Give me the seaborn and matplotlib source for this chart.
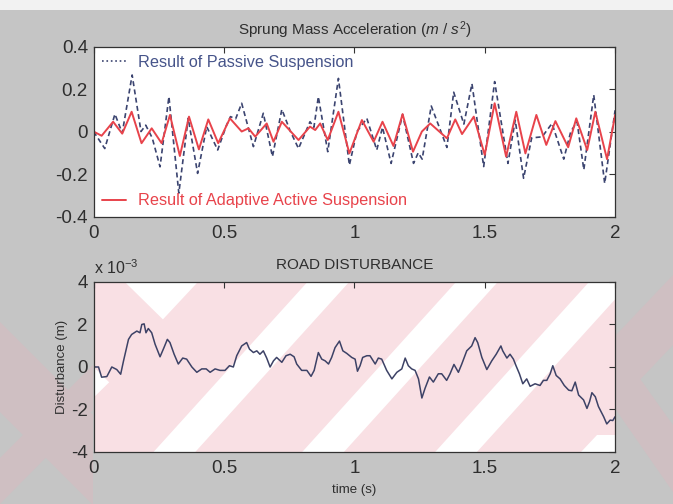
import matplotlib
matplotlib.use("Agg")
import matplotlib.pyplot as plt
import seaborn as sns
from matplotlib.lines import Line2D
from matplotlib.patches import Polygon, Rectangle

# ---------------- data ----------------
t_passive = [0.0, 0.043, 0.082, 0.11, 0.148, 0.182, 0.2, 0.225, 0.255, 0.289, 0.327,
             0.363, 0.399, 0.434, 0.476, 0.51, 0.525, 0.545, 0.568, 0.613, 0.651,
             0.686, 0.722, 0.755, 0.786, 0.83, 0.845, 0.862, 0.898, 0.939, 0.981,
             1.01, 1.048, 1.086, 1.108, 1.141, 1.185, 1.227, 1.245, 1.26, 1.295,
             1.355, 1.381, 1.42, 1.451, 1.496, 1.538, 1.589, 1.617, 1.649, 1.68,
             1.72, 1.758, 1.803, 1.83, 1.854, 1.88, 1.918, 1.96, 2.0]
acc_passive = [0.0, -0.08, 0.082, -0.007, 0.266, 0.0, 0.03, -0.03, -0.166, 0.164, -0.29,
               0.062, -0.197, 0.023, -0.087, 0.03, 0.07, 0.06, 0.133, -0.071, 0.086,
               -0.118, 0.104, 0.0, -0.08, 0.046, 0.02, 0.164, -0.095, 0.25, -0.158,
               0.0, 0.062, -0.087, 0.02, -0.15, 0.08, -0.15, -0.1, -0.13, 0.12,
               -0.075, 0.185, 0.035, 0.225, -0.165, 0.235, -0.15, 0.054, -0.22, -0.03,
               -0.025, 0.038, -0.13, 0.0, 0.046, -0.18, 0.172, -0.244, 0.1]

t_active = [0.0, 0.031, 0.075, 0.11, 0.146, 0.184, 0.223, 0.261, 0.293, 0.331, 0.366,
            0.404, 0.44, 0.478, 0.523, 0.568, 0.594, 0.62, 0.664, 0.69, 0.722, 0.786,
            0.83, 0.85, 0.869, 0.898, 0.939, 0.981, 1.029, 1.074, 1.108, 1.15, 1.185,
            1.225, 1.259, 1.291, 1.355, 1.387, 1.413, 1.458, 1.5, 1.538, 1.582, 1.621,
            1.656, 1.698, 1.736, 1.771, 1.82, 1.851, 1.893, 1.924, 1.969, 2.0]
acc_active = [0.0, -0.02, 0.046, -0.01, 0.093, -0.055, 0.015, -0.055, 0.078, -0.115, 0.07,
              -0.084, 0.057, -0.055, 0.062, 0.0, 0.015, -0.024, 0.038, -0.048, 0.046, -0.04,
              0.023, 0.007, 0.038, -0.04, 0.093, -0.103, 0.054, -0.048, 0.046, -0.068, 0.082,
              -0.095, 0.0, 0.038, -0.032, 0.057, -0.012, 0.07, -0.11, 0.133, -0.118, 0.093,
              -0.103, 0.078, -0.063, 0.049, -0.074, 0.062, -0.087, 0.093, -0.13, 0.078]

# road disturbance, in units of 1e-3 m
t_road = [0.0, 0.006, 0.019, 0.031, 0.051, 0.070, 0.089, 0.104, 0.115, 0.134, 0.146,
          0.166, 0.178, 0.185, 0.194, 0.201, 0.210, 0.223, 0.236, 0.255, 0.270, 0.283,
          0.293, 0.309, 0.325, 0.342, 0.357, 0.377, 0.396, 0.415, 0.432, 0.447, 0.466,
          0.485, 0.504, 0.521, 0.536, 0.549, 0.568, 0.587, 0.598, 0.613, 0.626, 0.638,
          0.651, 0.664, 0.677, 0.690, 0.702, 0.722, 0.738, 0.754, 0.769, 0.779, 0.798,
          0.818, 0.834, 0.846, 0.862, 0.875, 0.888, 0.901, 0.913, 0.926, 0.943, 0.956,
          0.971, 0.990, 1.003, 1.012, 1.022, 1.032, 1.048, 1.060, 1.080, 1.092, 1.105,
          1.124, 1.144, 1.163, 1.182, 1.195, 1.207, 1.220, 1.233, 1.246, 1.259, 1.271,
          1.288, 1.303, 1.322, 1.335, 1.354, 1.367, 1.382, 1.399, 1.412, 1.431, 1.450,
          1.463, 1.473, 1.489, 1.508, 1.527, 1.544, 1.562, 1.569, 1.585, 1.597, 1.610,
          1.620, 1.633, 1.646, 1.661, 1.674, 1.693, 1.712, 1.725, 1.738, 1.751, 1.761,
          1.774, 1.789, 1.805, 1.822, 1.834, 1.847, 1.860, 1.879, 1.892, 1.902, 1.911,
          1.924, 1.936, 1.956, 1.968, 1.981, 1.991, 2.0]
road_e3 = [0.05, 0.0, 0.0, -0.48, -0.45, 0.0, -0.12, -0.34, 0.29, 1.3, 1.53,
           1.69, 1.61, 2.0, 2.03, 1.61, 1.81, 1.61, 1.07, 0.48, 0.91, 1.3,
           1.15, 0.6, 0.14, 0.42, 0.37, 0.0, -0.25, -0.09, -0.09, -0.25, -0.09,
           -0.16, -0.16, 0.06, 0.0, 0.53, 0.99, 1.15, 0.84, 0.68, 0.76, 0.6,
           0.76, 0.42, 0.0, 0.29, 0.45, 0.22, 0.53, 0.6, 0.48, 0.14, -0.16,
           -0.16, -0.44, -0.16, 0.68, 0.37, 0.29, 0.14, 0.45, 0.91, 1.22, 0.76,
           0.64, 0.45, 0.37, -0.2, 0.06, 0.45, 0.53, 0.53, 0.14, 0.42, 0.37,
           -0.16, -0.56, -0.25, -0.09, 0.42, 0.06, -0.09, -0.16, -0.56, -1.46, -1.01,
           -0.47, -0.71, -0.32, -0.32, -0.63, -0.32, 0.12, -0.25, 0.14, 0.76, 0.99,
           1.38, 1.15, 0.45, -0.12, 0.29, 0.6, 0.99, 0.76, 0.42, 0.6, 0.37,
           0.06, -0.32, -0.79, -0.56, -0.91, -0.79, -0.87, -0.63, -0.63, -0.32, 0.06,
           -0.40, -0.56, -0.87, -1.09, -1.12, -0.71, -1.32, -1.55, -1.95, -1.63, -1.21,
           -1.40, -1.86, -2.34, -2.68, -2.50, -2.52, -2.34]

x_ticks = [0, 0.5, 1, 1.5, 2]
x_tick_labels = ["0", "0.5", "1", "1.5", "2"]
acc_ticks = [-0.4, -0.2, 0, 0.2, 0.4]
acc_tick_labels = ["-0.4", "-0.2", "0", "0.2", "0.4"]
road_ticks = [-4, -2, 0, 2, 4]
road_tick_labels = ["-4", "-2", "0", "2", "4"]

label_passive = "Result of Passive Suspension"
label_active = "Result of Adaptive Active Suspension"
title_top = r"Sprung Mass Acceleration ($m$ / $s^2$)"
title_bottom = "ROAD DISTURBANCE"

# ---------------- style ----------------
sns.set_theme(style="white")
plt.rcParams["font.family"] = ["Liberation Sans", "DejaVu Sans"]
plt.rcParams["axes.unicode_minus"] = False
plt.rcParams["mathtext.fontset"] = "custom"
plt.rcParams["mathtext.rm"] = "Liberation Sans"
plt.rcParams["mathtext.it"] = "Liberation Sans:italic"

GRAY_BG = "#c5c5c5"
BAND = "#cfbfc2"
TXT = "#2e2e2e"
C_PASSIVE = "#3b4470"
C_PASSIVE_TXT = "#46548a"
C_ACTIVE = "#e8434b"
C_ROAD = "#3d4266"
W, H = 673.0, 504.0

fig = plt.figure(figsize=(6.73, 5.04), dpi=100, facecolor=GRAY_BG)
fig.patches.append(Rectangle((0, 1 - 10 / H), 1, 10 / H, transform=fig.transFigure,
                             facecolor="#f2f2f2", edgecolor="none", zorder=-10))

# faint watermark bands in the grey margins (pixel coords -> figure fraction)
margin_bands = [
    [(0, 322), (0, 412), (93, 505), (93, 415)],
    [(0, 458), (93, 365), (93, 410), (0, 504)],
    [(673, 275), (673, 345), (616, 405), (616, 335)],
    [(616, 345), (616, 410), (673, 492), (673, 425)],
]
for pts in margin_bands:
    fig.patches.append(Polygon([(x / W, 1 - y / H) for x, y in pts], closed=True,
                               transform=fig.transFigure, facecolor=BAND,
                               edgecolor="none", zorder=-9))

ax1 = fig.add_axes([0.139, 0.5704, 0.775, 0.3373])
ax2 = fig.add_axes([0.139, 0.1032, 0.775, 0.3373])

# ---------- top panel ----------
ax1.set_facecolor("white")
sns.lineplot(x=t_passive, y=acc_passive, ax=ax1, color=C_PASSIVE, lw=1.2,
             linestyle=(0, (3, 2)), estimator=None, sort=False)
sns.lineplot(x=t_active, y=acc_active, ax=ax1, color=C_ACTIVE, lw=1.4,
             estimator=None, sort=False, solid_joinstyle="round")
ax1.set_xlim(0, 2)
ax1.set_ylim(-0.4, 0.4)
ax1.set_xticks(x_ticks, x_tick_labels)
ax1.set_yticks(acc_ticks, acc_tick_labels)
ax1.set_title(title_top, fontsize=11, color=TXT, pad=8)

h_p = Line2D([], [], color=C_PASSIVE, lw=1.2, linestyle=":")
h_a = Line2D([], [], color=C_ACTIVE, lw=1.4)
leg1 = ax1.legend([h_p], [label_passive], loc="upper left", frameon=False,
                  fontsize=11.7, handlelength=1.5, handletextpad=0.75,
                  borderaxespad=0.1, labelcolor=[C_PASSIVE_TXT])
ax1.add_artist(leg1)
ax1.legend([h_a], [label_active], loc="lower left", frameon=False,
           fontsize=11.7, handlelength=1.5, handletextpad=0.75,
           borderaxespad=0.1, labelcolor=[C_ACTIVE])

# ---------- bottom panel ----------
ax2.set_facecolor("#f9e0e4")
stripes = [
    [(0.115, 0.0), (0.195, 0.0), (0.49, 1.0), (0.41, 1.0)],
    [(0.40, 0.0), (0.48, 0.0), (0.775, 1.0), (0.695, 1.0)],
    [(0.655, 0.0), (0.735, 0.0), (1.03, 1.0), (0.95, 1.0)],
    [(0.06, 1.0), (0.20, 1.0), (0.133, 0.78)],
    [(0.0, 0.32), (0.0, 0.50), (0.03, 0.41)],
    [(0.935, 0.0), (1.0, 0.0), (1.0, 0.10), (0.965, 0.10)],
]
for pts in stripes:
    ax2.add_patch(Polygon(pts, closed=True, transform=ax2.transAxes,
                          facecolor="white", edgecolor="none", zorder=0))

sns.lineplot(x=t_road, y=road_e3, ax=ax2, color=C_ROAD, lw=1.1,
             estimator=None, sort=False)
ax2.set_xlim(0, 2)
ax2.set_ylim(-4, 4)
ax2.set_xticks(x_ticks, x_tick_labels)
ax2.set_yticks(road_ticks, road_tick_labels)
ax2.set_title(title_bottom, fontsize=11, color=TXT, pad=9)
ax2.text(0.0, 1.045, r"x 10$^{-3}$", transform=ax2.transAxes, fontsize=11.5,
         color=TXT, ha="left", va="baseline")
ax2.set_ylabel("Disturbance (m)", fontsize=9.5, color=TXT, labelpad=2)
ax2.set_xlabel("time (s)", fontsize=9.5, color=TXT, labelpad=5)

for ax in (ax1, ax2):
    for s in ax.spines.values():
        s.set_color("#333333")
        s.set_linewidth(0.9)
        s.set_visible(True)
    ax.tick_params(axis="both", direction="in", top=True, right=True,
                   length=4, width=0.8, color="#333333",
                   labelsize=13.5, labelcolor=TXT)
    ax.tick_params(axis="x", pad=6)
    ax.tick_params(axis="y", pad=4)
    ax.grid(False)

fig.savefig("out.png", dpi=100, facecolor=fig.get_facecolor())
